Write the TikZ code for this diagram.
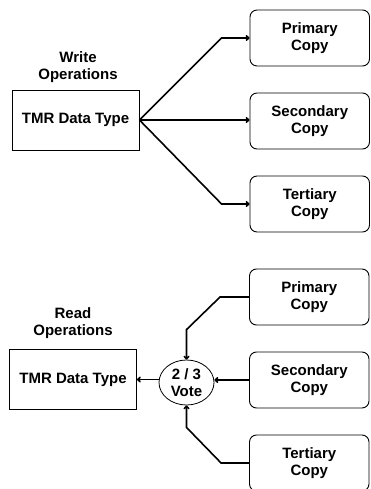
\documentclass[tikz,border=0pt]{standalone}
\usepackage{fontspec}
\setmainfont{Liberation Sans}
\usetikzlibrary{positioning, arrows.meta, shapes.geometric}

\begin{document}
\begin{tikzpicture}[x=1pt,y=-1pt,
  font=\bfseries\fontsize{15}{16.5}\selectfont,
  box/.style={draw,line width=0.9pt,inner sep=0pt,
              minimum width=127pt,minimum height=60pt},
  copybox/.style={draw,line width=0.9pt,rounded corners=7pt,inner sep=0pt,
                  align=center,minimum width=119.5pt,minimum height=56pt},
  votenode/.style={draw,ellipse,line width=0.8pt,inner sep=0pt,align=center,
                   minimum width=55pt,minimum height=45pt},
  opslabel/.style={align=center,inner sep=0pt},
  arr/.style={line width=1.6pt,-{To[length=4pt,width=6pt]}}]
  \path[use as bounding box,clip] (0,0) rectangle (371,489);

  % write operations
  \node[opslabel] (wlab) at (78,67) {Write\\Operations};
  \node[box] (wtmr) at (75.5,120) {TMR Data Type};
  \node[copybox] (wp) at (309.75,38) {Primary\\Copy};
  \node[copybox] (ws) at (309.75,121) {Secondary\\Copy};
  \node[copybox] (wt) at (309.75,204) {Tertiary\\Copy};
  \draw[arr] (wtmr.east) -- ([xshift=-28pt]wp.west) -- (wp.west);
  \draw[arr] (wtmr.east) -- (wtmr.east -| ws.west);
  \draw[arr] (wtmr.east) -- ([xshift=-28pt]wt.west) -- (wt.west);

  % read operations
  \node[opslabel] (rlab) at (73,323) {Read\\Operations};
  \node[box] (rtmr) at (73,379.5) {TMR Data Type};
  \node[votenode] (vote) at (186.5,382.5) {2 / 3\\Vote};
  \node[copybox] (rp) at (309.25,297) {Primary\\Copy};
  \node[copybox] (rs) at (309.25,380) {Secondary\\Copy};
  \node[copybox] (rt) at (309.25,463) {Tertiary\\Copy};
  \draw[arr] (rp.west) -- ([xshift=-29pt]rp.west) -- ([yshift=30pt]vote.north)
    -- (vote.north);
  \draw[arr] (rs.west) -- (rs.west -| vote.east);
  \draw[arr] (rt.west) -- ([xshift=-28pt]rt.west) -- ([yshift=-22pt]vote.south)
    -- (vote.south);
  \draw[arr] (vote.west |- rtmr.east) -- (rtmr.east);
\end{tikzpicture}
\end{document}
